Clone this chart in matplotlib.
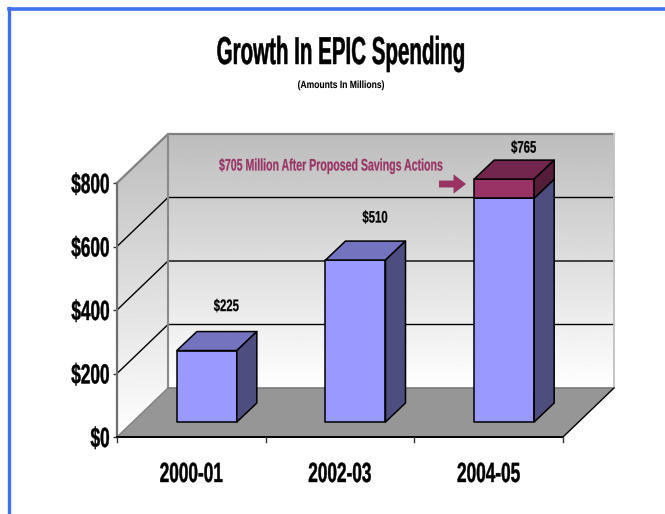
#!/usr/bin/env python3
"""Growth in EPIC spending as a 3-D style column chart."""
import matplotlib
matplotlib.use("Agg")
import matplotlib.pyplot as plt
import matplotlib.patheffects as pe
from matplotlib.patches import Polygon
from matplotlib.lines import Line2D
from matplotlib.transforms import Affine2D
import numpy as np

years = ["2000-01", "2002-03", "2004-05"]
after_savings = [225, 510, 705]
proposed_cuts = [0, 0, 60]
value_labels = ["$225", "$510", "$765"]
y_ticks = [0, 200, 400, 600, 800]
y_tick_labels = ["$0", "$200", "$400", "$600", "$800"]

W, H = 665, 514
plt.rcParams["font.family"] = ["Liberation Sans", "DejaVu Sans"]
plt.rcParams["font.weight"] = "bold"

# front plane of the box, in pixels
LEFT, RIGHT, BOTTOM, TOP = 117, 563, 437, 183
PX_X = (RIGHT - LEFT) / 3.0
PX_Y = (BOTTOM - TOP) / 800.0
# depth of the box and of the columns, in data units
DX, DY = 51 / PX_X, 49 / PX_Y
BAR_DX, BAR_DY = 20 / PX_X, 19 / PX_Y
OFF_X, OFF_Y = 15.5 / PX_X, 15 / PX_Y
BAR_W = 60 / PX_X
LABEL_LIFT_PX = [59, 57, 46]


class Squeeze(pe.AbstractPathEffect):
    """Narrow a text horizontally, the font set has no heavy condensed face."""

    def __init__(self, factor, anchor="center", stroke=0.15):
        super().__init__()
        self.factor = factor
        self.anchor = anchor
        self.stroke = stroke

    def draw_path(self, renderer, gc, tpath, affine, rgbFace=None):
        box = tpath.get_extents(affine)
        cx = box.x1 if self.anchor == "right" else 0.5 * (box.x0 + box.x1)
        squeeze = Affine2D().translate(-cx, 0).scale(self.factor, 1).translate(cx, 0)
        # a thin outline gives the narrowed stems their weight back
        gc0 = renderer.new_gc()
        gc0.copy_properties(gc)
        gc0.set_linewidth(self.stroke)
        gc0.set_foreground(rgbFace)
        renderer.draw_path(gc0, tpath, affine + squeeze, rgbFace)
        gc0.restore()


fig = plt.figure(figsize=(W / 100, H / 100), dpi=100)
ax = fig.add_axes([LEFT / W, 1 - BOTTOM / H, (RIGHT - LEFT) / W, (BOTTOM - TOP) / H])
ax.patch.set_visible(False)
for s in ax.spines.values():
    s.set_visible(False)

x0, x1 = -0.5, 2.5
ymax = 800

# vertical gray fade used by both walls
fade = np.linspace(0.74, 1.0, 256).reshape(-1, 1)
ax.imshow(fade, cmap="gray", vmin=0, vmax=1, aspect="auto", zorder=1, clip_on=False,
          extent=(x0 + DX, x1 + DX, DY, DY + ymax), origin="upper")
wall_poly = Polygon([(x0, 0), (x0 + DX, DY), (x0 + DX, DY + ymax), (x0, ymax)], fc="none", ec="none",
                    clip_on=False)
ax.add_patch(wall_poly)
side = ax.imshow(fade, cmap="gray", vmin=0, vmax=1, aspect="auto", zorder=1, origin="upper",
                 extent=(x0, x0 + DX, 0, DY + ymax))
side.set_clip_box(fig.bbox)
side.set_clip_path(wall_poly)

# floor
ax.add_patch(Polygon([(x0, 0), (x1, 0), (x1 + DX, DY), (x0 + DX, DY)], fc="#969696", ec="none",
                     zorder=2, clip_on=False))

# grid lines on both walls
for v in y_ticks[1:-1]:
    ax.plot([x0, x0 + DX, x1 + DX], [v, v + DY, v + DY], color="black", lw=1.0, zorder=3, clip_on=False)

# wall outlines
ax.plot([x0, x0 + DX, x1 + DX], [ymax, DY + ymax, DY + ymax], color="#808080", lw=1.6, zorder=3, clip_on=False)
ax.plot([x0 + DX, x0 + DX], [DY, DY + ymax], color="#8a8a8a", lw=1.5, zorder=3, clip_on=False)
ax.plot([x0 + DX, x1 + DX], [DY, DY], color="#7a7a7a", lw=1.2, zorder=3, clip_on=False)
ax.plot([x1 + DX, x1 + DX], [DY, DY + ymax], color="#c4c4c4", lw=1.4, zorder=3, clip_on=False)
ax.plot([x0, x0 + DX], [0, DY], color="#808080", lw=1.0, zorder=3, clip_on=False)
ax.plot([x0, x0], [0, ymax], color="#6e6e6e", lw=1.6, zorder=4, clip_on=False)
ax.plot([x1, x1 + DX], [0, DY], color="black", lw=1.0, zorder=4, clip_on=False)
ax.plot([x0, x1], [0, 0], color="black", lw=1.4, zorder=4, clip_on=False)


def draw_block(xc, lo, hi, front, top, right, z):
    xa = xc + OFF_X - BAR_W / 2
    xb = xa + BAR_W
    ya = lo + OFF_Y
    yb = hi + OFF_Y
    edge = dict(ec="black", lw=1.1, zorder=z, clip_on=False, joinstyle="round")
    ax.add_patch(Polygon([(xa, ya), (xb, ya), (xb, yb), (xa, yb)], fc=front, **edge))
    ax.add_patch(Polygon([(xa, yb), (xb, yb), (xb + BAR_DX, yb + BAR_DY), (xa + BAR_DX, yb + BAR_DY)], fc=top, **edge))
    ax.add_patch(Polygon([(xb, ya), (xb + BAR_DX, ya + BAR_DY), (xb + BAR_DX, yb + BAR_DY), (xb, yb)], fc=right, **edge))


for i, (val, cut) in enumerate(zip(after_savings, proposed_cuts)):
    draw_block(i, 0, val, "#9999ff", "#7373c0", "#4d4d80", 5)
    if cut:
        draw_block(i, val, val + cut, "#993366", "#73264d", "#561d3a", 6)
    ax.text(i + 35 / PX_X, val + cut + LABEL_LIFT_PX[i] / PX_Y, value_labels[i], ha="center", va="center",
            fontsize=12, zorder=7, clip_on=False, path_effects=[Squeeze(0.68)])

# axes ticks, at the front plane
ax.set_xlim(x0, x1)
ax.set_ylim(0, ymax)
ax.set_yticks(y_ticks)
ax.set_yticklabels(y_tick_labels, fontsize=20)
ax.set_xticks(np.arange(len(years)))
ax.set_xticklabels(years, fontsize=20)
ax.tick_params(axis="y", length=3, width=1, pad=2, color="#333333")
ax.tick_params(axis="x", length=0, pad=18)
for t in ax.get_yticklabels():
    t.set_path_effects([Squeeze(0.62, "right", 0.3)])
for t in ax.get_xticklabels():
    t.set_path_effects([Squeeze(0.62, stroke=0.3)])
for xt in [x0, 0.5, 1.5, x1]:
    ax.plot([xt, xt], [0, -5 / PX_Y], color="#333333", lw=1, zorder=4, clip_on=False)
ax.set_xlim(x0, x1)
ax.set_ylim(0, ymax)

# callout for the post-savings figure
fig.text(330 / W, 1 - 166 / H, "$705 Million After Proposed Savings Actions", color="#993366",
         fontsize=12, ha="center", va="center", path_effects=[Squeeze(0.635)])
ax.annotate("", xy=(466 / W, 1 - 184 / H), xytext=(439 / W, 1 - 184 / H), xycoords="figure fraction",
            textcoords="figure fraction", zorder=8,
            arrowprops=dict(arrowstyle="simple,head_length=0.45,head_width=0.7,tail_width=0.25",
                            mutation_scale=20, color="#993366", lw=0, shrinkA=0, shrinkB=0))

# headings
fig.text(341 / W, 1 - 54 / H, "Growth In EPIC Spending", fontsize=28, ha="center", va="center",
         path_effects=[Squeeze(0.528, stroke=0.35)])
fig.text(341 / W, 1 - 85 / H, "(Amounts In Millions)", fontsize=7.5, ha="center", va="center",
         path_effects=[Squeeze(0.82, stroke=0.05)])

# slide border
blue = "#4170ee"
fig.add_artist(Line2D([8.8 / W, 8.8 / W], [0, 1 - 8 / H], color=blue, lw=2.4, solid_capstyle="projecting"))
fig.add_artist(Line2D([8.8 / W, 1], [1 - 8.7 / H, 1 - 8.7 / H], color=blue, lw=2.6))

fig.savefig("out.png", dpi=100)
